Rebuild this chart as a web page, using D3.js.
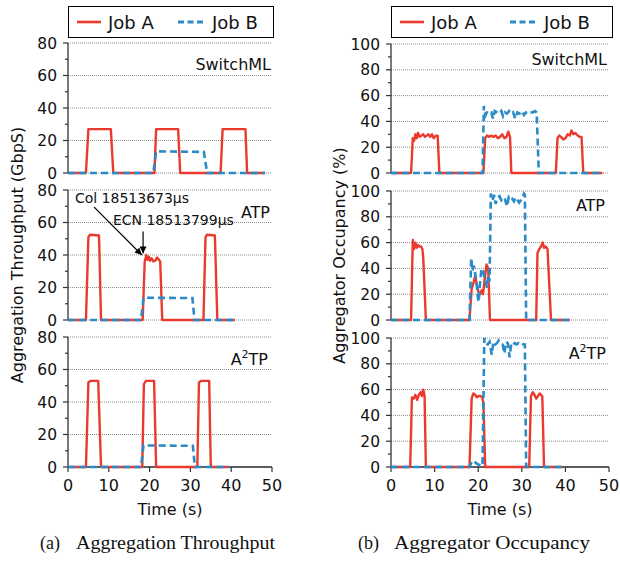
<!DOCTYPE html>
<html><head><meta charset="utf-8">
<script src="https://cdn.jsdelivr.net/npm/d3@7"></script>
<style>
body{margin:0;background:#fff;}
svg{display:block;}
text{fill:#111;}
</style></head>
<body><svg id="c" width="620" height="567" font-family="DejaVu Sans, sans-serif"></svg>
<script>
// ---------- DATA (time s, value) ----------
const timeTicks = [0,10,20,30,40,50];
const tpTicks = [0,20,40,60,80];
const ocTicks = [0,20,40,60,80,100];
const seriesNames = ["Job A","Job B"];
const schemeNames = ["SwitchML","ATP","A2TP"];

// Aggregation throughput (Gbps)
const tpSwitchA = [[0,0],[4.4,0],[5.0,27],[10.5,27],[11.1,0],[21.2,0],[21.6,27],[27.0,27],[27.5,0],[37.4,0],[37.9,27],[43.5,27],[43.9,0],[48.3,0]];
const tpSwitchB = [[0,0],[20.9,0],[21.6,13.3],[33.3,13],[34.1,0],[48.3,0]];
const tpAtpA = [[0,0],[4.4,0],[5.0,51],[5.4,52.5],[7.6,52],[8.1,0],[18.3,0],[18.8,36],[19.2,40],[19.5,37],[19.8,39],[20.1,36.5],[20.5,38],[20.9,36],[21.4,36.5],[21.8,38.5],[22.3,37],[22.6,36],[23.1,0],[33.2,0],[33.7,51],[34.1,52.5],[36.0,52],[36.6,0],[40.9,0]];
const tpAtpB = [[0,0],[17.9,0],[18.5,13.7],[30.5,13.5],[31.0,0],[41.0,0]];
const tpA2tpA = [[0,0],[4.4,0],[5.0,52],[5.5,53],[7.4,53],[8.1,0],[18.2,0],[18.6,51],[19.1,53],[21.1,53],[21.6,0],[31.7,0],[32.1,52],[32.6,53],[34.6,53],[35.0,0],[39.2,0]];
const tpA2tpB = [[0,0],[17.9,0],[18.5,13.3],[30.6,13],[31.1,0],[39.5,0]];

// Aggregator occupancy (%)
const ocSwitchA = [[0,0],[4.6,0],[5.0,27],[5.3,25],[5.6,30],[5.9,27],[6.2,31],[6.6,28],[7.0,29],[7.4,30],[7.8,28],[8.2,29],[8.6,30],[9.0,28],[9.4,30],[9.8,27],[10.3,29],[10.7,29],[11.1,0],[21.2,0],[21.6,27],[22.0,29],[22.5,28],[23.0,29],[23.5,28],[24.0,29],[24.5,27],[25.0,28],[25.5,30],[26.0,27],[26.5,28],[26.9,32],[27.3,28],[27.6,0],[37.8,0],[38.2,27],[38.6,29],[39.0,28],[39.5,26],[40.0,27],[40.5,30],[41.0,29],[41.4,33],[41.8,30],[42.3,31],[42.8,29],[43.3,28],[43.7,28],[44.1,0],[48.5,0]];
const ocSwitchB = [[0,0],[21.0,0],[21.3,52],[21.7,45],[22.1,48],[22.6,47],[23.0,47],[23.4,42],[23.8,48],[24.3,47],[24.8,46],[25.3,48],[25.7,44],[26.1,47],[26.6,46],[27.1,48],[27.6,46],[28.0,47],[28.5,42],[29.0,47],[29.5,46],[30.0,48],[30.5,45],[31.0,47],[31.5,48],[32.0,47],[32.5,47],[33.0,48],[33.4,47],[33.9,0],[48.5,0]];
const ocAtpA = [[0,0],[4.6,0],[5.0,62],[5.3,55],[5.6,60],[5.9,56],[6.2,58],[6.5,57],[6.9,57],[7.2,55],[7.4,48],[8.0,0],[18.0,0],[18.5,24],[19.0,30],[19.3,34],[19.7,27],[20.1,21],[20.4,20],[20.8,23],[21.1,20],[21.5,32],[21.9,43],[22.3,40],[22.7,0],[33.3,0],[33.6,52],[34.0,55],[34.4,57],[34.8,60],[35.1,56],[35.5,57],[35.9,55],[36.7,0],[41.0,0]];
const ocAtpB = [[0,0],[18.0,0],[18.4,48],[18.7,38],[19.0,42],[19.3,36],[19.6,30],[19.9,18],[20.1,14],[20.4,28],[20.7,38],[21.0,40],[21.3,35],[21.7,30],[22.0,25],[22.3,35],[22.6,30],[22.9,98],[23.3,93],[23.7,97],[24.0,90],[24.4,95],[24.9,96],[25.3,93],[25.7,95],[26.1,94],[26.6,88],[27.0,95],[27.4,93],[27.8,94],[28.2,92],[28.6,95],[29.0,93],[29.4,91],[29.8,93],[30.2,95],[30.5,98],[30.7,97],[31.0,0],[41.0,0]];
const ocA2tpA = [[0,0],[4.4,0],[4.8,54],[5.2,53],[5.6,56],[6.0,52],[6.4,56],[6.8,58],[7.1,55],[7.4,60],[7.7,55],[8.0,0],[18.0,0],[18.5,53],[18.9,57],[19.3,56],[19.7,54],[20.1,55],[20.5,55],[20.9,54],[21.2,50],[21.6,0],[31.7,0],[32.1,55],[32.5,58],[32.9,56],[33.3,53],[33.7,55],[34.1,57],[34.4,56],[34.7,55],[35.1,0],[39.4,0]];
const ocA2tpB = [[0,0],[18.0,0],[18.5,4],[19.0,5],[19.5,3],[20.0,2],[20.5,1],[21.0,1],[21.4,100],[21.8,96],[22.2,95],[22.6,97],[23.1,87],[23.5,97],[23.9,95],[24.3,96],[24.7,98],[25.1,96],[25.6,95],[26.0,88],[26.4,97],[26.8,96],[27.2,85],[27.6,96],[28.0,95],[28.4,96],[28.8,95],[29.2,96],[29.6,95],[30.0,96],[30.4,95],[30.7,95],[31.0,0],[39.4,0]];

// annotations (in data units of ATP throughput panel)
const annotCol = {label:"Col 18513673µs", tx:1.7, ty:72, from:[6.4,69.5], to:[18.1,40]};
const annotEcn = {label:"ECN 18513799µs", tx:11.0, ty:58.5, from:[18.4,54.5], to:[18.4,41]};

// ---------- DRAW ----------
const RED = "#ea3a2d", BLUE = "#2a8bc6";
const svg = d3.select("#c");

svg.append("defs").append("marker")
  .attr("id","arr").attr("viewBox","0 0 10 10").attr("refX",10).attr("refY",5)
  .attr("markerWidth",7).attr("markerHeight",7).attr("markerUnits","userSpaceOnUse")
  .attr("orient","auto")
  .append("path").attr("d","M0,0L10,5L0,10Z").attr("fill","#000");

const charts = [
  {x0:68, x1:272, tops:[43,190,337], h:130, ymax:80, ticks:tpTicks,
   data:[[tpSwitchA,tpSwitchB],[tpAtpA,tpAtpB],[tpA2tpA,tpA2tpB]],
   ylabel:"Aggregation Throughput (GbpS)", ylx:17, lbl:[[271,70],[270,218],[268,365]],
   legend:{x:68,w:205}, caption:["(a)","Aggregation Throughput"], capx:40, capw:199},
  {x0:391, x1:609, tops:[44,191,338], h:129, ymax:100, ticks:ocTicks,
   data:[[ocSwitchA,ocSwitchB],[ocAtpA,ocAtpB],[ocA2tpA,ocA2tpB]],
   ylabel:"Aggregator Occupancy (%)", ylx:339, lbl:[[607,65],[605,211],[606,359]],
   legend:{x:391,w:221}, caption:["(b)","Aggregator Occupancy"], capx:358, capw:196}
];

charts.forEach(ch => {
  const x = d3.scaleLinear().domain([0,50]).range([ch.x0, ch.x1]);
  ch.tops.forEach((top, pi) => {
    const y = d3.scaleLinear().domain([0,ch.ymax]).range([top+ch.h, top]);
    const g = svg.append("g");
    // grid
    g.selectAll(".grid").data(ch.ticks).enter().append("line")
      .attr("x1",ch.x0).attr("x2",ch.x1).attr("y1",d=>y(d)).attr("y2",d=>y(d))
      .attr("stroke","#8a8a8a").attr("stroke-width",1).attr("stroke-dasharray","1,1");
    // y axis
    const minor = d3.range(10, ch.ymax, 20);
    g.selectAll(".mt").data(minor).enter().append("line")
      .attr("x1",ch.x0-3).attr("x2",ch.x0).attr("y1",d=>y(d)).attr("y2",d=>y(d))
      .attr("stroke","#333").attr("stroke-width",1.2);
    g.selectAll(".Mt").data(ch.ticks).enter().append("line")
      .attr("x1",ch.x0-5).attr("x2",ch.x0).attr("y1",d=>y(d)).attr("y2",d=>y(d))
      .attr("stroke","#333").attr("stroke-width",1.2);
    g.append("line").attr("x1",ch.x0).attr("x2",ch.x0).attr("y1",y(0)).attr("y2",y(ch.ymax))
      .attr("stroke","#333").attr("stroke-width",1.3);
    g.selectAll(".tl").data(ch.ticks).enter().append("text")
      .attr("x",ch.x0-11).attr("y",d=>y(d)).attr("dy","0.36em")
      .attr("text-anchor","end").attr("font-size",15.5).text(d=>d);
    // x axis on bottom panel
    if (pi === 2) {
      g.append("line").attr("x1",ch.x0).attr("x2",ch.x1).attr("y1",y(0)).attr("y2",y(0))
        .attr("stroke","#333").attr("stroke-width",1.3);
      g.selectAll(".xt").data(timeTicks).enter().append("line")
        .attr("x1",d=>x(d)).attr("x2",d=>x(d)).attr("y1",y(0)).attr("y2",y(0)+5)
        .attr("stroke","#333").attr("stroke-width",1.2);
      g.selectAll(".xl").data(timeTicks).enter().append("text")
        .attr("x",d=>x(d)).attr("y",y(0)+23.5).attr("text-anchor","middle")
        .attr("font-size",16).text(d=>d);
      g.append("text").attr("x",(ch.x0+ch.x1)/2).attr("y",y(0)+48).attr("text-anchor","middle")
        .attr("font-size",16).text("Time (s)");
    }
    // lines
    const line = d3.line().x(d=>x(d[0])).y(d=>y(d[1]));
    const [a,b] = ch.data[pi];
    g.append("path").attr("d",line(a)).attr("fill","none").attr("stroke",RED)
      .attr("stroke-width",2.4).attr("stroke-linejoin","round");
    g.append("path").attr("d",line(b)).attr("fill","none").attr("stroke",BLUE)
      .attr("stroke-width",2.6).attr("stroke-dasharray","7,4");
    // scheme label
    const [lx,ly] = ch.lbl[pi];
    const t = g.append("text").attr("x",lx).attr("y",ly).attr("text-anchor","end").attr("font-size",16);
    if (schemeNames[pi] === "A2TP") {
      t.append("tspan").text("A");
      t.append("tspan").attr("font-size",11).attr("dy",-7).text("2");
      t.append("tspan").attr("dy",7).text("TP");
    } else t.text(schemeNames[pi]);

    // annotations on ATP throughput panel
    if (ch.ymax === 80 && pi === 1) {
      [annotCol, annotEcn].forEach(an => {
        g.append("text").attr("x",x(an.tx)).attr("y",y(an.ty)).attr("font-size",14).text(an.label);
        g.append("line").attr("x1",x(an.from[0])).attr("y1",y(an.from[1]))
          .attr("x2",x(an.to[0])).attr("y2",y(an.to[1]))
          .attr("stroke","#000").attr("stroke-width",1.2).attr("marker-end","url(#arr)");
      });
    }
  });
  // y label
  const midY = (ch.tops[0] + ch.tops[2] + ch.h)/2;
  svg.append("text").attr("transform",`translate(${ch.ylx},${midY}) rotate(-90)`)
    .attr("text-anchor","middle").attr("dy","0.35em").attr("font-size",16).text(ch.ylabel);
  // legend
  const lg = svg.append("g");
  lg.append("rect").attr("x",ch.legend.x+0.5).attr("y",6.5).attr("width",ch.legend.w).attr("height",31)
    .attr("fill","#fff").attr("stroke","#000").attr("stroke-width",1);
  const lx0 = ch.legend.x;
  lg.append("line").attr("x1",lx0+9).attr("x2",lx0+33).attr("y1",22).attr("y2",22)
    .attr("stroke",RED).attr("stroke-width",2.6);
  lg.append("text").attr("x",lx0+40).attr("y",28.5).attr("font-size",18).text(seriesNames[0]);
  const off = ch.legend.w > 210 ? 119 : 110;
  lg.append("line").attr("x1",lx0+off).attr("x2",lx0+off+26).attr("y1",22).attr("y2",22)
    .attr("stroke",BLUE).attr("stroke-width",2.8).attr("stroke-dasharray","6,3.5");
  lg.append("text").attr("x",lx0+off+34).attr("y",28.5).attr("font-size",18).text(seriesNames[1]);
  // caption
  svg.append("text").attr("x",ch.capx).attr("y",549).style("font-family","'Liberation Serif', serif")
    .attr("font-size",18).text(ch.caption[0]);
  svg.append("text").attr("x",ch.capx+36).attr("y",549).style("font-family","'Liberation Serif', serif")
    .attr("font-size",18).attr("textLength",ch.capw).attr("lengthAdjust","spacingAndGlyphs")
    .text(ch.caption[1]);
});
</script></body></html>
